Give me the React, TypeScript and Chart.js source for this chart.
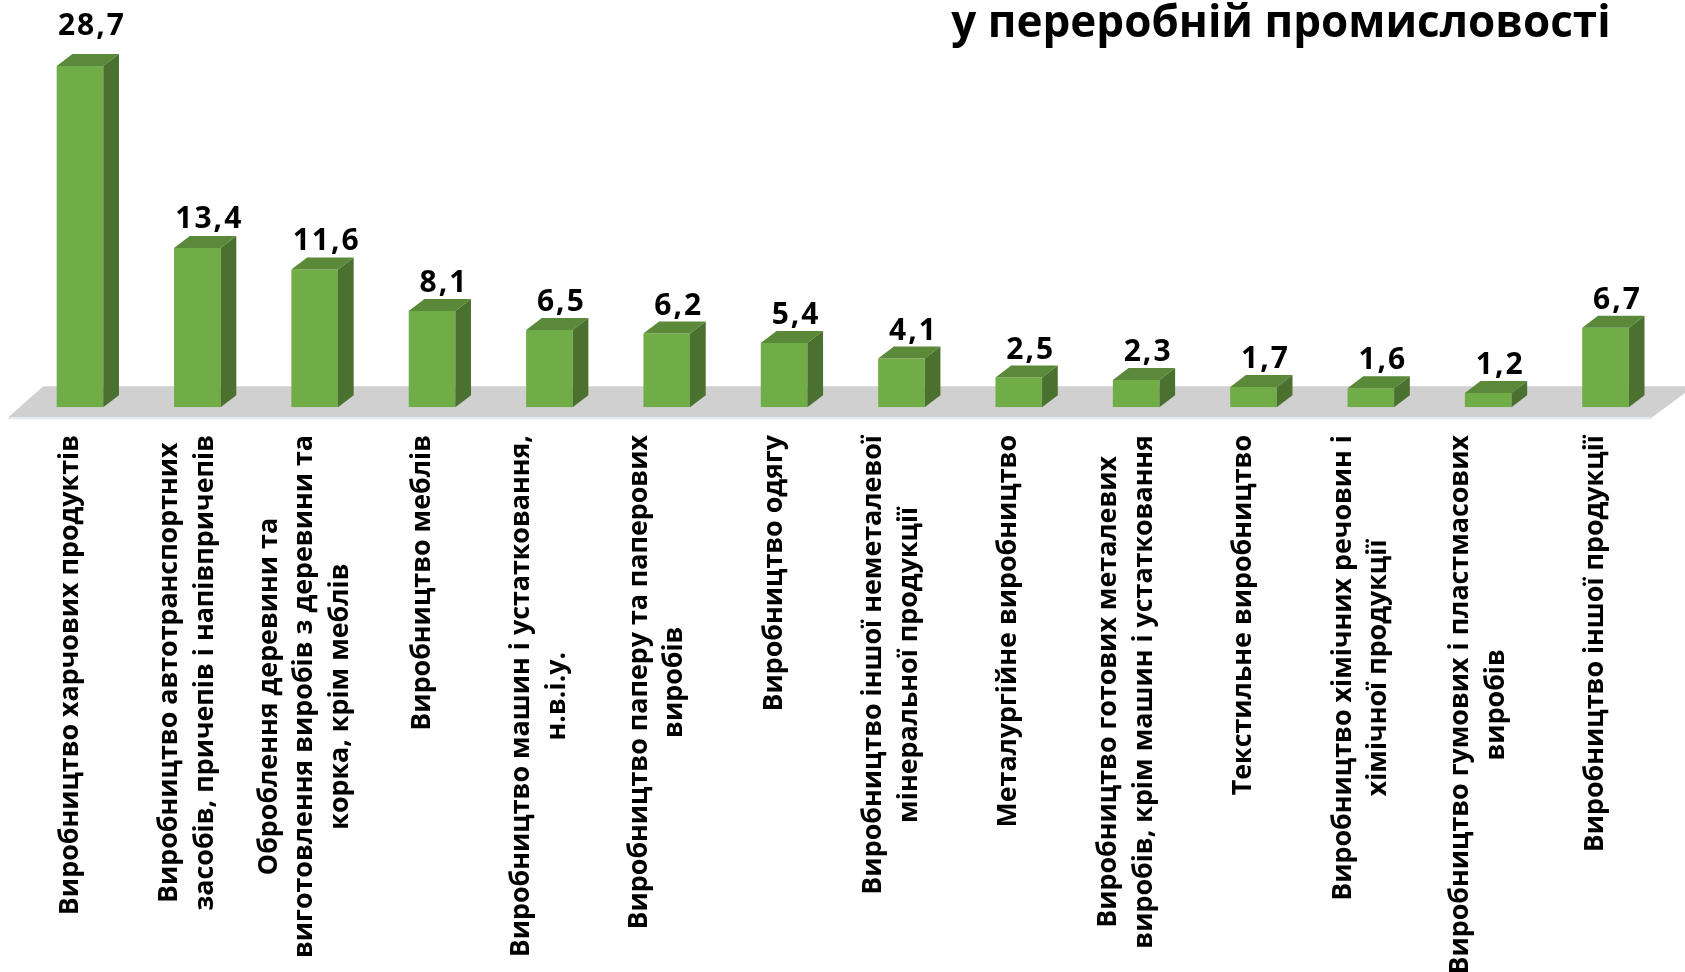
import React, { useEffect, useRef } from "react";
import { Chart, registerables } from "chart.js";

Chart.register(...registerables);

// ---- data ----
const categories: string[][] = [
  ["Виробництво харчових продуктів"],
  ["Виробництво автотранспортних", "засобів, причепів і напівпричепів"],
  ["Оброблення деревини та", "виготовлення виробів з деревини та", "корка, крім меблів"],
  ["Виробництво меблів"],
  ["Виробництво машин і устатковання,", "н.в.і.у."],
  ["Виробництво паперу та паперових", "виробів"],
  ["Виробництво одягу"],
  ["Виробництво іншої неметалевої", "мінеральної продукції"],
  ["Металургійне виробництво"],
  ["Виробництво готових металевих", "виробів, крім машин і устатковання"],
  ["Текстильне виробництво"],
  ["Виробництво хімічних речовин і", "хімічної продукції"],
  ["Виробництво гумових і пластмасових", "виробів"],
  ["Виробництво іншої продукції"],
];

const values: number[] = [28.7, 13.4, 11.6, 8.1, 6.5, 6.2, 5.4, 4.1, 2.5, 2.3, 1.7, 1.6, 1.2, 6.7];

const titleText = "у переробній промисловості";

const yMin = 0;
const yMax = 30;

// ---- styles ----
const FONT = "'Open Sans', 'Noto Sans', sans-serif";
const FRONT = "#70AD47";
const TOP = "#5A8A39";
const SIDE = "#4A7130";
const FLOOR = "#D0D0D0";
const DX = 15.7;
const DY = -12;

const fmt = (v: number) => v.toFixed(1).replace(".", ",");

const bar3dPlugin = {
  id: "bar3d",
  beforeDatasetsDraw(chart: any) {
    const { ctx, chartArea, scales } = chart;
    const base = scales.y.getPixelForValue(0);
    ctx.save();
    ctx.fillStyle = FLOOR;
    ctx.beginPath();
    ctx.moveTo(chartArea.left - 13, base + 10);
    ctx.lineTo(chartArea.left + 22, base - 21);
    ctx.lineTo(chartArea.right + 30, base - 21);
    ctx.lineTo(chartArea.right - 12, base + 10);
    ctx.closePath();
    ctx.fill();
    ctx.strokeStyle = "#E3E8EE";
    ctx.lineWidth = 2;
    ctx.beginPath();
    ctx.moveTo(chartArea.left - 13, base + 11);
    ctx.lineTo(chartArea.right - 12, base + 11);
    ctx.stroke();
    ctx.restore();
  },
  afterDatasetsDraw(chart: any) {
    const { ctx } = chart;
    const meta = chart.getDatasetMeta(0);
    ctx.save();
    meta.data.forEach((bar: any, i: number) => {
      const { x, y, base, width } = bar.getProps(["x", "y", "base", "width"], true);
      const l = x - width / 2;
      const r = x + width / 2;
      ctx.fillStyle = TOP;
      ctx.beginPath();
      ctx.moveTo(l, y);
      ctx.lineTo(l + DX, y + DY);
      ctx.lineTo(r + DX, y + DY);
      ctx.lineTo(r, y);
      ctx.closePath();
      ctx.fill();
      ctx.fillStyle = SIDE;
      ctx.beginPath();
      ctx.moveTo(r, y);
      ctx.lineTo(r + DX, y + DY);
      ctx.lineTo(r + DX, base + DY);
      ctx.lineTo(r, base);
      ctx.closePath();
      ctx.fill();

      // value label (taller bars get their label lifted slightly more, as in the 3D view)
      const gap = 19 + Math.max(0, values[i] - 12) * 0.75;
      ctx.fillStyle = "#000";
      ctx.font = `bold 30px ${FONT}`;
      (ctx as any).letterSpacing = "2px";
      ctx.textAlign = "center";
      ctx.textBaseline = "alphabetic";
      ctx.fillText(fmt(values[i]), x + 12, y - gap);
    });
    ctx.restore();
  },
  afterDraw(chart: any) {
    const { ctx, scales } = chart;
    const lh = 35.5;
    const topY = 435;
    ctx.save();
    (ctx as any).letterSpacing = "0px";
    ctx.fillStyle = "#000";
    ctx.font = `bold 26.8px ${FONT}`;
    ctx.textAlign = "center";
    ctx.textBaseline = "middle";
    categories.forEach((lines, i) => {
      const cx = scales.x.getPixelForValue(i) - 10;
      const maxW = Math.max(...lines.map((s) => ctx.measureText(s).width));
      const n = lines.length;
      lines.forEach((line, j) => {
        const lx = cx + (j - (n - 1) / 2) * lh;
        ctx.save();
        ctx.translate(lx, topY + maxW / 2);
        ctx.rotate(-Math.PI / 2);
        ctx.fillText(line, 0, 0);
        ctx.restore();
      });
    });
    // title (second line visible)
    ctx.font = `bold 44px ${FONT}`;
    ctx.textAlign = "center";
    ctx.textBaseline = "alphabetic";
    ctx.fillText(titleText, 1281, 37);
    ctx.restore();
  },
};

export default function App() {
  const ref = useRef<HTMLCanvasElement | null>(null);
  useEffect(() => {
    if (!ref.current) return;
    const chart = new Chart(ref.current, {
      type: "bar",
      data: {
        labels: categories,
        datasets: [
          {
            data: values,
            backgroundColor: FRONT,
            borderWidth: 0,
            barPercentage: 0.397,
            categoryPercentage: 1,
          },
        ],
      },
      options: {
        responsive: false,
        animation: false,
        events: [],
        layout: { padding: { left: 21.3, right: 20.8, top: 50.6, bottom: 564.7 } },
        scales: {
          x: { type: "category", display: false, offset: true },
          y: { type: "linear", display: false, min: yMin, max: yMax },
        },
        plugins: {
          legend: { display: false },
          tooltip: { enabled: false },
          title: { display: false },
        },
      },
      plugins: [bar3dPlugin],
    });
    return () => chart.destroy();
  }, []);
  return (
    <div style={{ position: "fixed", left: 0, top: 0, width: 1685, height: 972, background: "#fff" }}>
      <canvas ref={ref} width={1685} height={972} style={{ display: "block" }} />
    </div>
  );
}
